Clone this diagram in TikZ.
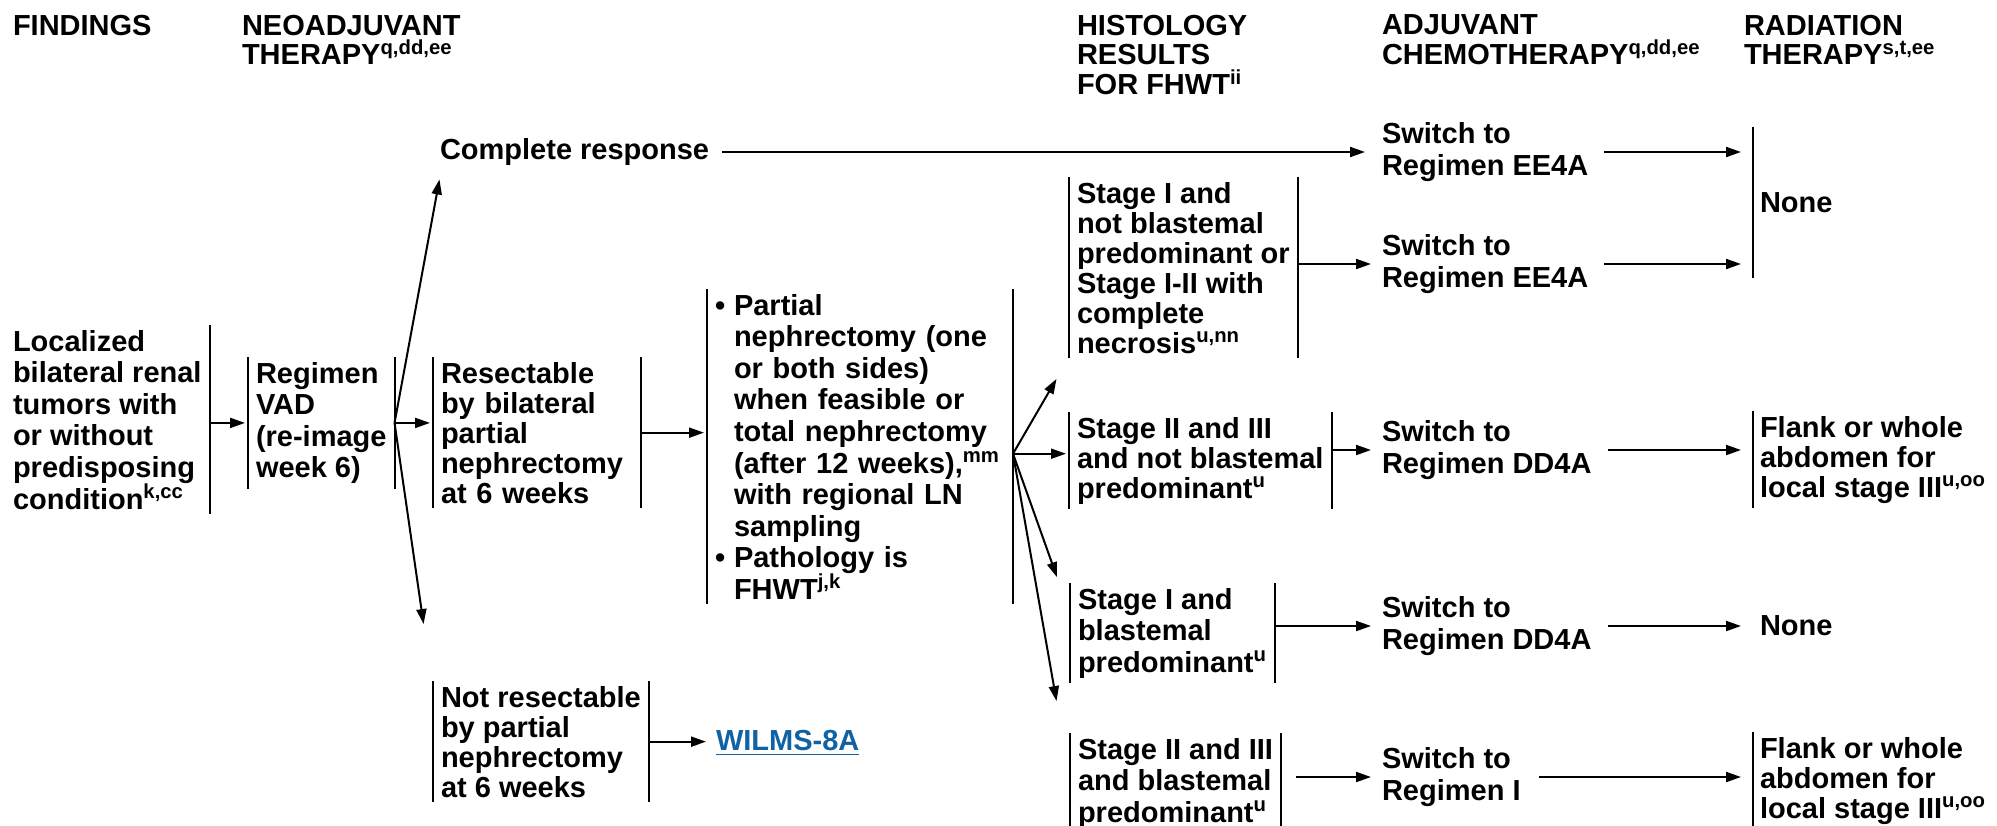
\documentclass[tikz,border=0pt]{standalone}
\usepackage{fontspec}
\setmainfont{Liberation Sans}
\usetikzlibrary{arrows.meta}
\definecolor{linkblue}{HTML}{0F62A4}

\begin{document}
\begin{tikzpicture}[x=0.5pt,y=-0.5pt,
  every node/.style={font=\fontsize{14.5pt}{15.8pt}\selectfont\bfseries,
    align=left, inner sep=0pt, outer sep=0pt},
  head/.style={anchor=north west, font=\fontsize{14.5pt}{14.8pt}\selectfont\bfseries},
  txt/.style={anchor=west},
  barline/.style={line width=1pt},
  boxed/.style={anchor=north west, inner xsep=4pt, inner ysep=2.5pt},
  lrbar/.style={boxed, append after command={
      (\tikzlastnode.north west) edge[barline] (\tikzlastnode.south west)
      (\tikzlastnode.north east) edge[barline] (\tikzlastnode.south east)}},
  rbar/.style={boxed, append after command={
      (\tikzlastnode.north east) edge[barline] (\tikzlastnode.south east)}},
  lbar/.style={boxed, inner xsep=3.5pt, append after command={
      (\tikzlastnode.north west) edge[barline] (\tikzlastnode.south west)}},
  mid/.style={font=\fontsize{14.5pt}{15pt}\selectfont\bfseries},
  arr/.style={line width=1pt, -{Triangle[length=7.5pt,width=5pt]}, shorten >=1.5pt},
]
\useasboundingbox (0,0) rectangle (1997,825);

% column headings
\node[head] (hfind) at (13,15) {FINDINGS};
\node[head] (hneo) at (242,15) {NEOADJUVANT\\THERAPY\textsuperscript{q,dd,ee}};
\node[head] (hhist) at (1077,15) {HISTOLOGY\\RESULTS\\FOR FHWT\textsuperscript{ii}};
\node[head] (hadj) at (1382,15) {ADJUVANT\\CHEMOTHERAPY\textsuperscript{q,dd,ee}};
\node[head] (hrad) at (1744,15) {RADIATION\\THERAPY\textsuperscript{s,t,ee}};

% findings and neoadjuvant therapy
\node[rbar] (find) at (5,325) {Localized\\bilateral renal\\tumors with\\or without\\predisposing\\condition\textsuperscript{k,cc}};
\node[lrbar] (reg) at (248,357) {Regimen\\VAD\\(re-image\\week 6)};
\node[txt] (comp) at (440,152) {Complete response};
\node[lrbar, mid, text width=96pt] (resect) at (433,357) {Resectable\\by bilateral\\partial\\nephrectomy\\at 6 weeks};
\node[lrbar, mid] (notres) at (433,681) {Not resectable\\by partial\\nephrectomy\\at 6 weeks};
\node[txt, text=linkblue] (wilms) at (716,743) {\underline{WILMS-8A}};

% surgery
\node[lrbar, text width=145pt] (surg) at (707,289) {\makebox[9.5pt][l]{•}Partial\\
\hspace*{9.5pt}nephrectomy (one\\
\hspace*{9.5pt}or both sides)\\
\hspace*{9.5pt}when feasible or\\
\hspace*{9.5pt}total nephrectomy\\
\hspace*{9.5pt}(after 12 weeks),\textsuperscript{mm}\\
\hspace*{9.5pt}with regional LN\\
\hspace*{9.5pt}sampling\\
\makebox[9.5pt][l]{•}Pathology is\\
\hspace*{9.5pt}FHWT\textsuperscript{j,k}};

% histology results
\node[lrbar, mid] (s1) at (1069,177) {Stage I and\\not blastemal\\predominant or\\Stage I-II with\\complete\\necrosis\textsuperscript{u,nn}};
\node[lrbar, mid] (s2) at (1069,412) {Stage II and III\\and not blastemal\\predominant\textsuperscript{u}};
\node[lrbar] (s3) at (1070,583) {Stage I and\\blastemal\\predominant\textsuperscript{u}};
\node[lrbar] (s4) at (1070,733) {Stage II and III\\and blastemal\\predominant\textsuperscript{u}};

% adjuvant chemotherapy
\node[txt] (sw1) at (1382,152) {Switch to\\Regimen EE4A};
\node[txt] (sw2) at (1382,264) {Switch to\\Regimen EE4A};
\node[txt] (sw3) at (1382,450) {Switch to\\Regimen DD4A};
\node[txt] (sw4) at (1382,626) {Switch to\\Regimen DD4A};
\node[txt] (sw5) at (1382,777) {Switch to\\Regimen I};

% radiation therapy
\node[lbar, minimum height=75.5pt] (none1) at (1753,127) {None};
\node[lbar, mid] (rad1) at (1753,411) {Flank or whole\\abdomen for\\local stage III\textsuperscript{u,oo}};
\node[txt] (none2) at (1760,626) {None};
\node[lbar, mid] (rad2) at (1753,732) {Flank or whole\\abdomen for\\local stage III\textsuperscript{u,oo}};

% connectors
\draw[arr] (find.east |- reg.west) -- (reg.west);
\draw[arr] (reg.east) -- (resect.west |- reg.east);
\draw[arr] (reg.east) -- ([yshift=-5.5pt]comp.south west);
\draw[arr] (reg.east) -- ([shift={(-9,-54)}]notres.north west);
\draw[arr] (resect.east) -- (surg.west |- resect.east);
\draw[arr, shorten >=5pt] (notres.east) -- (wilms.west |- notres.east);
\draw[arr, shorten <=6.5pt, shorten >=8.5pt] (comp.east) -- (sw1.west |- comp.east);

\coordinate (fan) at ([yshift=-3.5pt]surg.east);
\draw[arr] (fan) -- ([shift={(-11,18)}]s1.south west);
\draw[arr] (fan) -- (s2.west |- fan);
\draw[arr] (fan) -- ([shift={(-12,-3)}]s3.north west);
\draw[arr] (fan) -- ([shift={(-13,-29)}]s4.north west);

\draw[arr, shorten >=5.5pt] (sw2.west -| s1.east) -- (sw2.west);
\draw[arr, shorten >=5.5pt] (sw3.west -| s2.east) -- (sw3.west);
\draw[arr, shorten >=5.5pt] (sw4.west -| s3.east) -- (sw4.west);
\draw[arr, shorten <=7.5pt, shorten >=5.5pt] (sw5.west -| s4.east) -- (sw5.west);

\draw[arr, shorten <=8pt, shorten >=6pt] (sw1.east) -- (none1.west |- sw1.east);
\draw[arr, shorten <=8pt, shorten >=6pt] (sw2.east) -- (none1.west |- sw2.east);
\draw[arr, shorten <=8pt, shorten >=6pt] (sw3.east) -- (rad1.west |- sw3.east);
\draw[arr, shorten <=8pt, shorten >=9.5pt] (sw4.east) -- (none2.west |- sw4.east);
\draw[arr, shorten <=9pt, shorten >=6pt] (sw5.east) -- (rad2.west |- sw5.east);
\end{tikzpicture}
\end{document}
